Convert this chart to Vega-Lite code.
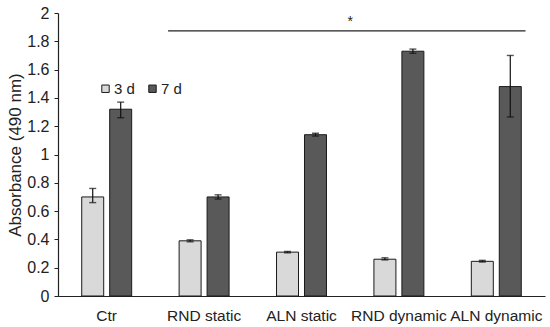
{
  "$schema": "https://vega.github.io/schema/vega-lite/v6.json",
  "width": 487,
  "height": 283,
  "autosize": {"type": "none"},
  "padding": {"left": 58, "top": 13, "right": 5, "bottom": 31},
  "background": "white",
  "config": {
    "view": {"stroke": null},
    "font": "Liberation Sans",
    "axis": {"grid": false, "labelFont": "Liberation Sans", "titleFont": "Liberation Sans"},
    "axisY": {"labelOverlap": false}
  },
  "datasets": {
    "bars": [
      {"group": "Ctr", "day": "3 d", "value": 0.70, "lo": 0.66, "hi": 0.76},
      {"group": "Ctr", "day": "7 d", "value": 1.32, "lo": 1.26, "hi": 1.37},
      {"group": "RND static", "day": "3 d", "value": 0.39, "lo": 0.383, "hi": 0.397},
      {"group": "RND static", "day": "7 d", "value": 0.70, "lo": 0.685, "hi": 0.715},
      {"group": "ALN static", "day": "3 d", "value": 0.31, "lo": 0.305, "hi": 0.315},
      {"group": "ALN static", "day": "7 d", "value": 1.14, "lo": 1.13, "hi": 1.15},
      {"group": "RND dynamic", "day": "3 d", "value": 0.26, "lo": 0.255, "hi": 0.27},
      {"group": "RND dynamic", "day": "7 d", "value": 1.73, "lo": 1.715, "hi": 1.745},
      {"group": "ALN dynamic", "day": "3 d", "value": 0.245, "lo": 0.24, "hi": 0.252},
      {"group": "ALN dynamic", "day": "7 d", "value": 1.48, "lo": 1.265, "hi": 1.70}
    ],
    "sig": [
      {"start": "RND static", "end": "ALN dynamic", "mid": "ALN static", "y": 1.873, "label": "*"}
    ]
  },
  "layer": [
    {
      "data": {"name": "bars"},
      "mark": {"type": "bar", "stroke": "#1a1a1a", "strokeWidth": 1},
      "encoding": {
        "x": {
          "field": "group", "type": "nominal",
          "scale": {"domain": ["Ctr", "RND static", "ALN static", "RND dynamic", "ALN dynamic"], "paddingInner": 0, "paddingOuter": 0},
          "axis": {"title": null, "labelAngle": 0, "ticks": false, "labelFontSize": 15.5, "labelColor": "#222", "labelPadding": 12, "domainColor": "#222", "domainWidth": 1.2}
        },
        "xOffset": {
          "field": "day", "type": "nominal",
          "scale": {"domain": ["3 d", "7 d"], "paddingInner": 0.214, "paddingOuter": 0.848}
        },
        "y": {
          "field": "value", "type": "quantitative",
          "scale": {"domain": [0, 2], "nice": false},
          "axis": {"title": "Absorbance (490 nm)", "titleFontSize": 17, "titleFontWeight": "normal", "titleColor": "#222", "titlePadding": 2,
                   "tickCount": 10, "format": ".1~f", "labelOverlap": false,
                   "labelFontSize": 16, "labelColor": "#222", "tickSize": 4, "tickColor": "#222", "domainColor": "#222", "domainWidth": 1.2, "labelPadding": 5}
        },
        "color": {
          "field": "day", "type": "nominal",
          "scale": {"domain": ["3 d", "7 d"], "range": ["#d9d9d9", "#595959"]},
          "legend": {"title": null, "orient": "none", "legendX": 40, "legendY": 68, "direction": "horizontal",
                     "symbolType": "square", "symbolSize": 55, "symbolStrokeColor": "#1a1a1a", "symbolStrokeWidth": 1,
                     "labelFontSize": 15, "labelColor": "#222", "columnPadding": 10, "labelOffset": 1}
        }
      }
    },
    {
      "data": {"name": "bars"},
      "mark": {"type": "rule", "color": "#111", "strokeWidth": 1.2},
      "encoding": {
        "x": {"field": "group", "type": "nominal"},
        "xOffset": {"field": "day", "type": "nominal"},
        "y": {"field": "lo", "type": "quantitative"},
        "y2": {"field": "hi"}
      }
    },
    {
      "data": {"name": "bars"},
      "mark": {"type": "tick", "color": "#111", "size": 7, "thickness": 1.4},
      "encoding": {
        "x": {"field": "group", "type": "nominal"},
        "xOffset": {"field": "day", "type": "nominal"},
        "y": {"field": "lo", "type": "quantitative"}
      }
    },
    {
      "data": {"name": "bars"},
      "mark": {"type": "tick", "color": "#111", "size": 7, "thickness": 1.4},
      "encoding": {
        "x": {"field": "group", "type": "nominal"},
        "xOffset": {"field": "day", "type": "nominal"},
        "y": {"field": "hi", "type": "quantitative"}
      }
    },
    {
      "data": {"name": "sig"},
      "mark": {"type": "rule", "color": "#222", "strokeWidth": 1.2},
      "encoding": {
        "x": {"field": "start", "type": "nominal", "bandPosition": 0.13},
        "x2": {"field": "end", "bandPosition": 0.8},
        "y": {"field": "y", "type": "quantitative"}
      }
    },
    {
      "data": {"name": "sig"},
      "mark": {"type": "text", "fontSize": 14, "color": "#222", "dy": -2, "baseline": "bottom"},
      "encoding": {
        "x": {"field": "mid", "type": "nominal", "bandPosition": 1},
        "y": {"field": "y", "type": "quantitative"},
        "text": {"field": "label"}
      }
    }
  ]
}
